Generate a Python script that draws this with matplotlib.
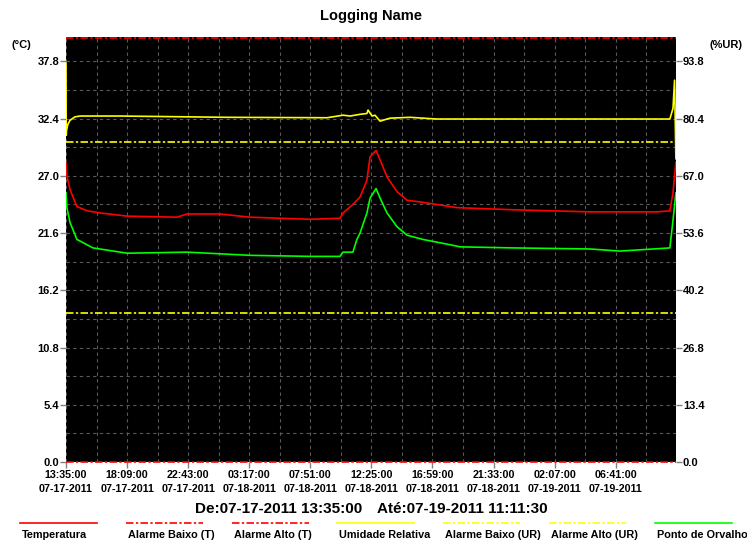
import matplotlib
matplotlib.use('Agg')
import matplotlib.pyplot as plt
from matplotlib.lines import Line2D
from matplotlib.ticker import FixedLocator

plt.rcParams['font.family'] = ['Liberation Sans', 'DejaVu Sans']

title = "Logging Name"

# elapsed minutes since 07-17-2011 13:35:00
t_temp = [0, 4, 18, 49, 95, 153, 274, 498, 543, 691, 825, 1095, 1229, 1243, 1287,
          1319, 1350, 1364, 1391, 1409, 1440, 1485, 1530, 1601, 1723, 1754, 2005,
          2351, 2651, 2709, 2723, 2736]
temp = [28.3, 27.0, 25.7, 24.1, 23.7, 23.5, 23.2, 23.1, 23.4, 23.4, 23.1, 22.9, 23.0,
        23.5, 24.3, 25.0, 26.6, 28.8, 29.4, 28.5, 26.9, 25.5, 24.7, 24.5, 24.1, 24.0,
        23.8, 23.6, 23.6, 23.7, 25.4, 28.3]

t_dew = [0, 4, 18, 49, 121, 274, 543, 825, 1095, 1229, 1243, 1287, 1305, 1319, 1350,
         1364, 1391, 1409, 1440, 1485, 1530, 1601, 1723, 1768, 2005, 2351, 2485,
         2709, 2723, 2736]
dew = [25.4, 24.0, 22.6, 21.0, 20.2, 19.7, 19.8, 19.5, 19.4, 19.4, 19.8, 19.8, 21.0,
       21.6, 23.5, 24.9, 25.8, 24.9, 23.5, 22.2, 21.4, 21.0, 20.5, 20.3, 20.2, 20.1,
       19.9, 20.2, 22.8, 25.4]

t_rh = [0, 1, 2, 8, 18, 40, 63, 242, 722, 1171, 1243, 1274, 1319, 1350, 1355, 1373,
        1386, 1409, 1453, 1543, 1664, 2709, 2723, 2730, 2736]
rh = [93.4, 76.5, 77.5, 79.0, 80.0, 80.8, 81.0, 81.0, 80.7, 80.6, 81.2, 81.0, 81.4,
      81.6, 82.4, 81.0, 81.2, 79.8, 80.5, 80.7, 80.3, 80.3, 82.8, 89.4, 71.0]

alarm_low_t = 0.0
alarm_high_t = 40.0
alarm_low_rh = 35.0
alarm_high_rh = 75.0

total_minutes = 2736.5
tick_minutes = [0, 274, 548, 822, 1096, 1370, 1644, 1918, 2192, 2466]
tick_times = ["13:35:00", "18:09:00", "22:43:00", "03:17:00", "07:51:00",
              "12:25:00", "16:59:00", "21:33:00", "02:07:00", "06:41:00"]
tick_dates = ["07-17-2011", "07-17-2011", "07-17-2011", "07-18-2011", "07-18-2011",
              "07-18-2011", "07-18-2011", "07-18-2011", "07-19-2011", "07-19-2011"]
left_ticks = [0.0, 5.4, 10.8, 16.2, 21.6, 27.0, 32.4, 37.8]
right_ticks = [0.0, 13.4, 26.8, 40.2, 53.6, 67.0, 80.4, 93.8]

start_text = "De:07-17-2011 13:35:00"
end_text = "Até:07-19-2011 11:11:30"

legend_names = ["Temperatura", "Alarme Baixo (T)", "Alarme Alto (T)", "Umidade Relativa",
                "Alarme Baixo (UR)", "Alarme Alto (UR)", "Ponto de Orvalho"]

RED = '#ff0000'
YEL = '#ffff00'
GRN = '#00ff00'
DASHDOT = (0, (4.5, 1.4, 1.4, 1.4))
legend_colors = [RED, RED, RED, YEL, YEL, YEL, GRN]
legend_styles = ['-', DASHDOT, DASHDOT, '-', DASHDOT, DASHDOT, '-']

W, H = 747, 543
fig = plt.figure(figsize=(W / 100, H / 100), dpi=100)
fig.patch.set_facecolor('white')

L, R, T, B = 66, 676, 37, 462
ax = fig.add_axes([L / W, 1 - B / H, (R - L) / W, (B - T) / H])
ax.set_facecolor('black')
ymax_t = 40.1
ymax_rh = ymax_t * 100 / 40.3
ax.set_xlim(0, total_minutes)
ax.set_ylim(0, ymax_t)

ax2 = ax.twinx()
ax2.set_ylim(0, ymax_rh)

# grid
ax.xaxis.set_major_locator(FixedLocator(tick_minutes))
ax.set_xticklabels([f"{a}\n{b}" for a, b in zip(tick_times, tick_dates)])
ax.xaxis.set_minor_locator(FixedLocator([137 * k for k in range(0, 20)]))
ax.yaxis.set_major_locator(FixedLocator(left_ticks))
ax.yaxis.set_minor_locator(FixedLocator([2.7 * k for k in range(0, 15)]))
ax.set_yticklabels([f"{v:.1f}" for v in left_ticks])
ax.grid(True, which='both', color='#5a5a5a', linestyle=(0, (3, 3)), linewidth=0.8)
ax.set_axisbelow(True)

ax2.yaxis.set_major_locator(FixedLocator(right_ticks))
ax2.set_yticklabels([f"{v:.1f}" for v in right_ticks])

for a in (ax, ax2):
    for s in a.spines.values():
        s.set_visible(False)
ax.tick_params(axis='x', which='major', length=4, color='#808080', pad=2,
               labelsize=7.7, width=1)
ax.tick_params(axis='x', which='minor', length=0)
ax.tick_params(axis='y', which='major', length=4, color='#808080', pad=1,
               labelsize=8, width=1)
ax.tick_params(axis='y', which='minor', length=0)
ax2.tick_params(axis='y', which='major', length=4, color='#808080', pad=1,
                labelsize=8, width=1)
for lab in ax.get_xticklabels():
    lab.set_fontweight('bold')
    lab.set_linespacing(1.45)
for lab in ax.get_yticklabels() + ax2.get_yticklabels():
    lab.set_fontweight('bold')

lw = 1.2
# alarms
ax.axhline(alarm_low_t, color=RED, linestyle=DASHDOT, linewidth=lw, clip_on=False, zorder=3)
ax.axhline(alarm_high_t, color=RED, linestyle=DASHDOT, linewidth=lw, clip_on=False, zorder=3)
ax2.axhline(alarm_low_rh, color=YEL, linestyle=DASHDOT, linewidth=lw, zorder=3)
ax2.axhline(alarm_high_rh, color=YEL, linestyle=DASHDOT, linewidth=lw, zorder=3)

ax.plot(t_temp, temp, color=RED, linewidth=lw, zorder=4)
ax.plot(t_dew, dew, color=GRN, linewidth=lw, zorder=4)
ax2.plot(t_rh, rh, color=YEL, linewidth=lw, zorder=4)

# texts
fig.text(371 / W, 1 - 16 / H, title, ha='center', va='center', fontsize=10.5,
         fontweight='bold')
fig.text(12 / W, 1 - 45 / H, "(°C)", ha='left', va='center', fontsize=8, fontweight='bold')
fig.text(710 / W, 1 - 45 / H, "(%UR)", ha='left', va='center', fontsize=8, fontweight='bold')
fig.text(195 / W, 1 - 509 / H, start_text, ha='left', va='center', fontsize=11,
         fontweight='bold')
fig.text(377 / W, 1 - 509 / H, end_text, ha='left', va='center', fontsize=11,
         fontweight='bold')

# legend row
for i, (name, c, ls) in enumerate(zip(legend_names, legend_colors, legend_styles)):
    x0 = 20 + i * 105.8
    fig.add_artist(Line2D([x0 / W, (x0 + 77) / W], [1 - 523 / H, 1 - 523 / H],
                          color=c, linestyle=ls, linewidth=lw))
    fig.text((x0 + 2) / W, 1 - 535 / H, name, ha='left', va='center', fontsize=7.8,
             fontweight='bold')

fig.savefig('out.png', dpi=100, facecolor='white')
